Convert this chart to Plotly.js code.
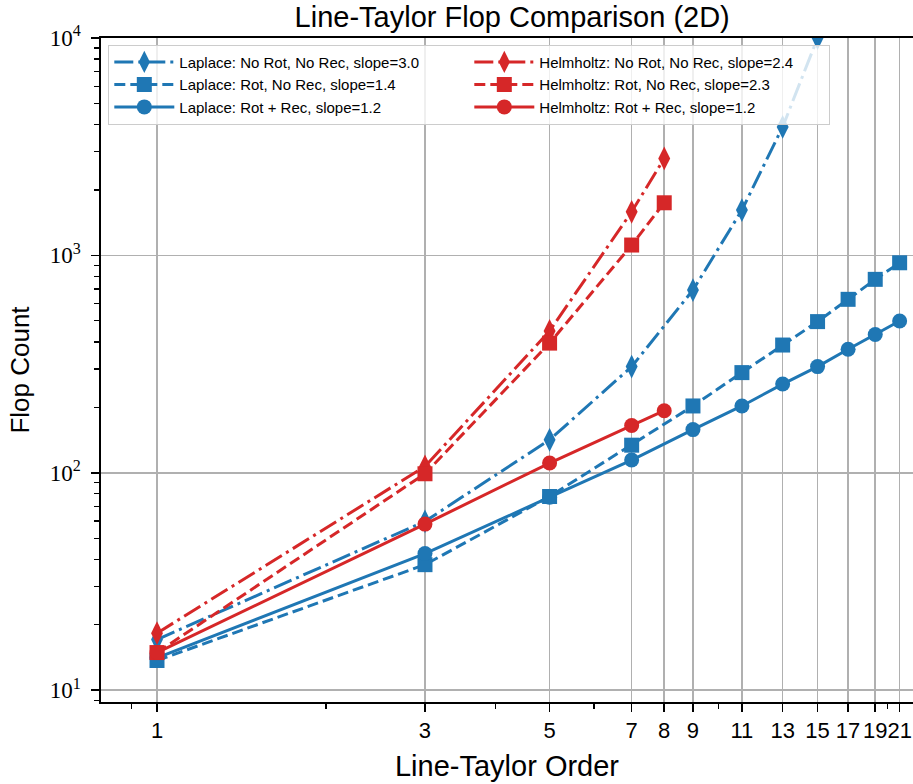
<!DOCTYPE html>
<html>
<head>
<meta charset="utf-8">
<script src="https://cdn.plot.ly/plotly-3.0.1.min.js"></script>
<style>html,body{margin:0;padding:0;background:#fff}#chart{width:913px;height:784px}</style>
</head>
<body>
<div id="chart"></div>
<script>
// Data
const ordersLaplace = [1, 3, 5, 7, 9, 11, 13, 15, 17, 19, 21];
const ordersLaplaceNoRot = [1, 3, 5, 7, 9, 11, 13, 15];
const ordersHelmholtz = [1, 3, 5, 7, 8];

const laplaceNoRotNoRec = [17.1, 59.8, 141.8, 308, 693, 1616, 3899, 10000];
const laplaceRotNoRec = [13.7, 37.8, 77.8, 134, 203, 289, 387, 496, 628, 776, 925];
const laplaceRotRec = [14.1, 42.5, 77.2, 114.5, 158, 203, 256, 308, 370, 433, 499];

const helmNoRotNoRec = [18.3, 107, 449, 1587, 2793];
const helmRotNoRec = [14.9, 99, 395, 1116, 1746];
const helmRotRec = [14.9, 58.1, 110.9, 165, 193];

const labels = [
  'Laplace: No Rot, No Rec, slope=3.0',
  'Laplace: Rot, No Rec, slope=1.4',
  'Laplace: Rot + Rec, slope=1.2',
  'Helmholtz: No Rot, No Rec, slope=2.4',
  'Helmholtz: Rot, No Rec, slope=2.3',
  'Helmholtz: Rot + Rec, slope=1.2'
];

const xTickVals = [1, 3, 5, 7, 8, 9, 11, 13, 15, 17, 19, 21];
const xTickText = ['1', '3', '5', '7', '8', '9', '11', '13', '15', '17', '19', '21'];
const xMinorVals = [0.9, 2, 4, 6, 10, 20];
const yTickVals = [10, 100, 1000, 10000];
const yTickText = ['10<sup>1</sup>', '10<sup>2</sup>', '10<sup>3</sup>', '10<sup>4</sup>'];
const yMinorVals = [];
[1, 10, 100, 1000].forEach(d => { for (let k = 2; k <= 9; k++) yMinorVals.push(k * d); });

const BLUE = '#1f77b4', RED = '#d62728';
const DASH = '11px,5px', DASHDOT = '19px,5px,3px,5px';
const LW = 3;

function tr(x, y, name, color, dash, symbol, size, rank) {
  return {
    x: x, y: y, name: name, type: 'scatter', mode: 'lines+markers',
    line: {color: color, width: LW, dash: dash},
    marker: {color: color, symbol: symbol, size: size},
    legendrank: rank
  };
}

const data = [
  tr(ordersLaplaceNoRot, laplaceNoRotNoRec, labels[0], BLUE, DASHDOT, 'diamond-tall', 17, 1),
  tr(ordersLaplace, laplaceRotNoRec, labels[1], BLUE, DASH, 'square', 15, 3),
  tr(ordersLaplace, laplaceRotRec, labels[2], BLUE, 'solid', 'circle', 15, 5),
  tr(ordersHelmholtz, helmNoRotNoRec, labels[3], RED, DASHDOT, 'diamond-tall', 17, 2),
  tr(ordersHelmholtz, helmRotNoRec, labels[4], RED, DASH, 'square', 15, 4),
  tr(ordersHelmholtz, helmRotRec, labels[5], RED, 'solid', 'circle', 15, 6)
];

const layout = {
  width: 913, height: 784,
  margin: {l: 101, r: 0, t: 38, b: 82},
  paper_bgcolor: '#ffffff', plot_bgcolor: '#ffffff',
  font: {family: 'Liberation Sans, Arial, sans-serif', color: '#000'},
  title: {
    text: 'Line-Taylor Flop Comparison (2D)',
    font: {size: 29, family: 'Liberation Sans, Arial, sans-serif', color: '#000'},
    xref: 'container', x: 0.561, xanchor: 'center',
    yref: 'container', y: 1 - 17 / 784, yanchor: 'middle'
  },
  xaxis: {
    type: 'log', range: [-0.0997, 1.346],
    tickmode: 'array', tickvals: xTickVals, ticktext: xTickText,
    tickangle: 0,
    ticks: 'outside', ticklen: 8, tickwidth: 1.5, tickcolor: '#000',
    tickfont: {size: 22, family: 'Liberation Sans, Arial, sans-serif'},
    showgrid: true, gridcolor: '#b0b0b0', gridwidth: 1.5,
    showline: true, linecolor: '#000', linewidth: 1.6, mirror: true,
    zeroline: false,
    minor: {tickmode: 'array', tickvals: xMinorVals, ticks: 'outside', ticklen: 5, tickwidth: 1.2, tickcolor: '#000', showgrid: false},
    title: {text: 'Line-Taylor Order', font: {size: 29}, standoff: 13}
  },
  yaxis: {
    type: 'log', range: [0.9458, 4.0],
    tickmode: 'array', tickvals: yTickVals, ticktext: yTickText,
    ticks: 'outside', ticklen: 8, tickwidth: 1.5, tickcolor: '#000',
    ticklabelstandoff: 6,
    tickfont: {size: 23, family: 'Liberation Serif, Times New Roman, serif'},
    showgrid: true, gridcolor: '#b0b0b0', gridwidth: 1.5,
    showline: true, linecolor: '#000', linewidth: 1.6, mirror: true,
    zeroline: false,
    minor: {tickmode: 'array', tickvals: yMinorVals, ticks: 'outside', ticklen: 5, tickwidth: 1.2, tickcolor: '#000', showgrid: false},
    title: {text: 'Flop Count', font: {size: 26}, standoff: 12}
  },
  legend: {
    orientation: 'h',
    x: 0.009, xanchor: 'left', y: 0.99, yanchor: 'top',
    itemwidth: 60,
    entrywidth: 285, entrywidthmode: 'pixels',
    bgcolor: 'rgba(255,255,255,0.8)', bordercolor: '#cccccc', borderwidth: 1,
    font: {size: 15, family: 'Liberation Sans, Arial, sans-serif'},
    traceorder: 'normal'
  },
  showlegend: true
};

Plotly.newPlot('chart', data, layout, {staticPlot: true, displayModeBar: false});
</script>
</body>
</html>
